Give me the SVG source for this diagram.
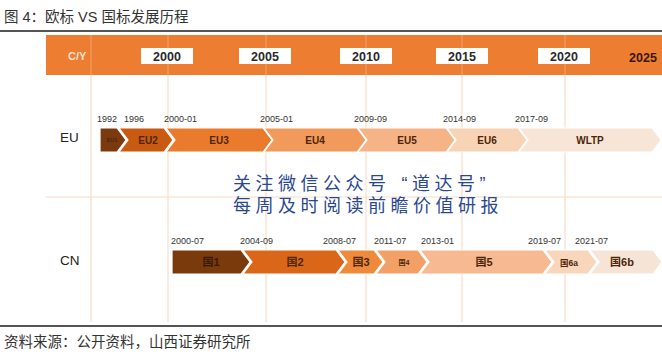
<svg xmlns="http://www.w3.org/2000/svg" width="662" height="364" viewBox="0 0 662 364">
<style>
.t{font-family:"Liberation Sans","Noto Sans CJK SC",sans-serif}
.cap{font-family:"Liberation Sans","Noto Sans CJK SC",sans-serif;font-size:14.5px;fill:#333}
.yr{font-family:"Liberation Sans",sans-serif;font-weight:bold;font-size:12.5px;fill:#2a2a2a;text-anchor:middle}
.ybox{fill:#fff}
.grid{stroke:#F9DCC6;stroke-width:1.2;fill:none}
.gridb{stroke:#F4A46C;stroke-width:1;fill:none}
.date{font-family:"Liberation Sans",sans-serif;font-size:9px;fill:#333}
.lab{font-family:"Liberation Sans","Noto Sans CJK SC",sans-serif;font-weight:bold;font-size:10px;fill:#4d2508;text-anchor:middle}
.row{font-family:"Liberation Sans",sans-serif;font-size:13.5px;fill:#222}
.arr{stroke:#fff;stroke-width:1.2}
.wm{font-family:"Liberation Sans","Noto Sans CJK SC",sans-serif;font-size:18px;fill:#2a4792;letter-spacing:4.5px}
</style>
<text class="cap" x="4" y="22">图 4：欧标 VS 国标发展历程</text>
<line x1="0" y1="31" x2="662" y2="31" stroke="#555" stroke-width="2"/>
<g id="header">
<rect x="46" y="35" width="616" height="40" fill="#ED7D31"/>
<g class="gridb">
<line x1="91" y1="35" x2="91" y2="75"/><line x1="168" y1="35" x2="168" y2="75"/><line x1="266" y1="35" x2="266" y2="75"/><line x1="366" y1="35" x2="366" y2="75"/><line x1="462" y1="35" x2="462" y2="75"/><line x1="565" y1="35" x2="565" y2="75"/>
</g>
<text x="68" y="60" class="t" style="font-size:11px;font-weight:bold;fill:#FBE2CF">C/Y</text>
<rect class="ybox" x="141" y="48" width="52" height="16"/>
<rect class="ybox" x="239" y="48" width="52" height="16"/>
<rect class="ybox" x="340" y="48" width="52" height="16"/>
<rect class="ybox" x="436" y="48" width="52" height="16"/>
<rect class="ybox" x="538" y="48" width="52" height="16"/>
<text class="yr" x="167" y="61">2000</text>
<text class="yr" x="265" y="61">2005</text>
<text class="yr" x="366" y="61">2010</text>
<text class="yr" x="462" y="61">2015</text>
<text class="yr" x="564" y="61">2020</text>
<text class="yr" x="643" y="62" style="fill:#3a1608">2025</text>
</g>
<g id="grid" class="grid">
<line x1="91" y1="75" x2="91" y2="322"/><line x1="168" y1="75" x2="168" y2="322"/><line x1="266" y1="75" x2="266" y2="322"/><line x1="366" y1="75" x2="366" y2="322"/><line x1="462" y1="75" x2="462" y2="322"/><line x1="565" y1="75" x2="565" y2="322"/>
<line x1="46" y1="197" x2="662" y2="197"/>
</g>
<g id="row-eu">
<text class="row" x="60" y="142">EU</text>
</g>
<g id="row-cn">
<text class="row" x="60" y="265">CN</text>
</g>
<g id="eu1"><polygon class="arr" fill="#7A3A0E" points="100,128 117,128 126,140 117,152 100,152"/><text class="lab" x="112" y="142" style="font-size:5.5px">EU1</text><text class="date" x="97" y="122">1992</text></g>
<g id="eu2"><polygon class="arr" fill="#C95A12" points="119,128 164,128 173,140 164,152 119,152 128,140"/><text class="lab" x="148" y="144">EU2</text><text class="date" x="124" y="122">1996</text></g>
<g id="eu3"><polygon class="arr" fill="#EB7B2C" points="166,128 263,128 272,140 263,152 166,152 175,140"/><text class="lab" x="219" y="144">EU3</text><text class="date" x="164" y="122">2000-01</text></g>
<g id="eu4"><polygon class="arr" fill="#F19A5B" points="264,128 357,128 366,140 357,152 264,152 273,140"/><text class="lab" x="315" y="144">EU4</text><text class="date" x="260" y="122">2005-01</text></g>
<g id="eu5"><polygon class="arr" fill="#F6B386" points="358,128 446,128 455,140 446,152 358,152 367,140"/><text class="lab" x="407" y="144">EU5</text><text class="date" x="354" y="122">2009-09</text></g>
<g id="eu6"><polygon class="arr" fill="#F9D3B6" points="447,128 518,128 527,140 518,152 447,152 456,140"/><text class="lab" x="487" y="144">EU6</text><text class="date" x="443" y="122">2014-09</text></g>
<g id="wltp"><polygon class="arr" fill="#F7E5D8" points="519,128 652,128 661,140 652,152 519,152 528,140"/><text class="lab" x="590" y="144">WLTP</text><text class="date" x="515" y="122">2017-09</text></g>
<g id="cn1"><polygon class="arr" fill="#7A3A0C" points="172,250 241,250 250,262 241,274 172,274"/><text class="lab" x="211" y="266" style="font-size:11px;fill:#3a1a06">国1</text><text class="date" x="171" y="244">2000-07</text></g>
<g id="cn2"><polygon class="arr" fill="#DA661A" points="243,250 336,250 345,262 336,274 243,274 252,262"/><text class="lab" x="295" y="266" style="font-size:11px">国2</text><text class="date" x="240" y="244">2004-09</text></g>
<g id="cn3"><polygon class="arr" fill="#EE8A3C" points="338,250 374,250 383,262 374,274 338,274 347,262"/><text class="lab" x="361" y="266" style="font-size:11px">国3</text><text class="date" x="323" y="244">2008-07</text></g>
<g id="cn4"><polygon class="arr" fill="#F3A066" points="376,250 418,250 427,262 418,274 376,274 385,262"/><text class="lab" x="404" y="265" style="font-size:7px">国4</text><text class="date" x="374" y="244">2011-07</text></g>
<g id="cn5"><polygon class="arr" fill="#F7B991" points="420,250 543,250 552,262 543,274 420,274 429,262"/><text class="lab" x="484" y="266" style="font-size:11px">国5</text><text class="date" x="421" y="244">2013-01</text></g>
<g id="cn6a"><polygon class="arr" fill="#F9D6BB" points="545,250 588,250 597,262 588,274 545,274 554,262"/><text class="lab" x="569" y="266" style="font-size:8.5px">国6a</text><text class="date" x="528" y="244">2019-07</text></g>
<g id="cn6b"><polygon class="arr" fill="#F6E4D6" points="590,250 653,250 662,262 653,274 590,274 599,262"/><text class="lab" x="622" y="266" style="font-size:11px">国6b</text><text class="date" x="575" y="244">2021-07</text></g>
<text class="wm" x="233" y="190">关注微信公众号<tspan dx="11">“</tspan>道达号”</text>
<text class="wm" x="233" y="212">每周及时阅读前瞻价值研报</text>
<line x1="0" y1="326" x2="662" y2="326" stroke="#555" stroke-width="2"/>
<text class="cap" x="4" y="347">资料来源：公开资料，山西证券研究所</text>
</svg>
